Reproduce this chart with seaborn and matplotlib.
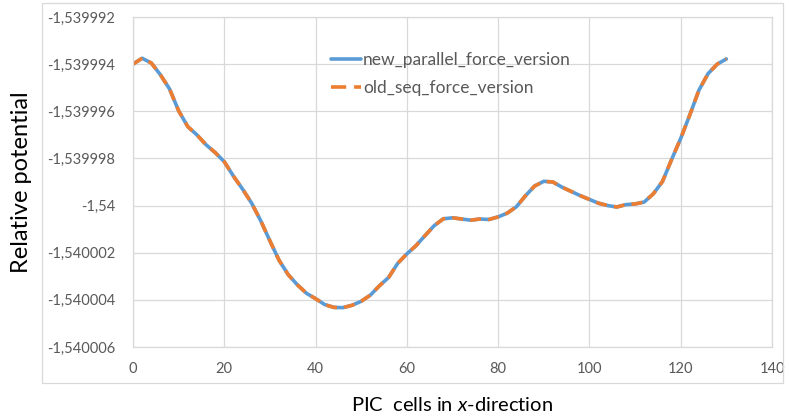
import numpy as np
import pandas as pd
import matplotlib
matplotlib.use("Agg")
import matplotlib.pyplot as plt
import seaborn as sns
from matplotlib.patches import Rectangle

cells = [0, 2, 4, 6, 8, 10, 12, 14, 16, 18, 20, 22, 24, 26, 28, 30, 32, 34, 36, 38,
         40, 42, 44, 46, 48, 50, 52, 54, 56, 58, 60, 62, 64, 66, 68, 70, 72, 74, 76, 78,
         80, 82, 84, 86, 88, 90, 92, 94, 96, 98, 100, 102, 104, 106, 108, 110, 112, 114,
         116, 118, 120, 122, 124, 126, 128, 130]

new_parallel = [-1.53999400, -1.53999375, -1.53999395, -1.53999445, -1.53999505, -1.53999598,
                -1.53999665, -1.53999700, -1.53999742, -1.53999775, -1.53999814, -1.53999875,
                -1.53999930, -1.53999990, -1.54000065, -1.54000150, -1.54000232, -1.54000293,
                -1.54000336, -1.54000372, -1.54000395, -1.54000420, -1.54000432, -1.54000433,
                -1.54000423, -1.54000406, -1.54000380, -1.54000340, -1.54000305, -1.54000245,
                -1.54000205, -1.54000170, -1.54000127, -1.54000085, -1.54000056, -1.54000052,
                -1.54000057, -1.54000062, -1.54000057, -1.54000059, -1.54000048, -1.54000032,
                -1.54000005, -1.53999958, -1.53999917, -1.53999897, -1.53999900, -1.53999922,
                -1.53999940, -1.53999958, -1.53999974, -1.53999990, -1.54000000, -1.54000006,
                -1.53999996, -1.53999993, -1.53999985, -1.53999950, -1.53999898, -1.53999805,
                -1.53999715, -1.53999615, -1.53999510, -1.53999440, -1.53999400, -1.53999378]

old_seq = [-1.53999400, -1.53999375, -1.53999395, -1.53999445, -1.53999505, -1.53999598,
           -1.53999665, -1.53999700, -1.53999742, -1.53999775, -1.53999814, -1.53999875,
           -1.53999930, -1.53999990, -1.54000065, -1.54000150, -1.54000232, -1.54000293,
           -1.54000336, -1.54000372, -1.54000395, -1.54000420, -1.54000432, -1.54000433,
           -1.54000423, -1.54000406, -1.54000380, -1.54000340, -1.54000305, -1.54000245,
           -1.54000205, -1.54000170, -1.54000127, -1.54000085, -1.54000056, -1.54000052,
           -1.54000057, -1.54000062, -1.54000057, -1.54000059, -1.54000048, -1.54000032,
           -1.54000005, -1.53999958, -1.53999917, -1.53999897, -1.53999900, -1.53999922,
           -1.53999940, -1.53999958, -1.53999974, -1.53999990, -1.54000000, -1.54000006,
           -1.53999996, -1.53999993, -1.53999985, -1.53999950, -1.53999898, -1.53999805,
           -1.53999715, -1.53999615, -1.53999510, -1.53999440, -1.53999400, -1.53999378]

series_names = ["new_parallel_force_version", "old_seq_force_version"]
y_ticks = [-1.539992, -1.539994, -1.539996, -1.539998, -1.54, -1.540002, -1.540004, -1.540006]
y_tick_labels = ["-1,539992", "-1,539994", "-1,539996", "-1,539998", "-1,54",
                 "-1,540002", "-1,540004", "-1,540006"]
x_ticks = [0, 20, 40, 60, 80, 100, 120, 140]
x_tick_labels = ["0", "20", "40", "60", "80", "100", "120", "140"]

sns.set_style("whitegrid")
plt.rcParams["font.family"] = ["Lato", "DejaVu Sans"]
plt.rcParams["mathtext.fontset"] = "custom"
plt.rcParams["mathtext.it"] = "Lato:italic"
plt.rcParams["mathtext.rm"] = "Lato"

df_new = pd.DataFrame({"x": cells, "y": new_parallel})
df_old = pd.DataFrame({"x": cells, "y": old_seq})

fig = plt.figure(figsize=(7.89, 4.18), dpi=100)
ax = fig.add_axes([133 / 789, 1 - 347 / 418, (772 - 133) / 789, (347 - 17) / 418])

grid_c = "#d9d9d9"
text_c = "#595959"

sns.lineplot(data=df_new, x="x", y="y", ax=ax, color="#5B9BD5", linewidth=2.6,
             label=series_names[0], estimator=None, sort=False)
sns.lineplot(data=df_old, x="x", y="y", ax=ax, color="#ED7D31", linewidth=2.6,
             label=series_names[1], estimator=None, sort=False)
ax.lines[1].set_dashes([3.0, 2.0])
ax.lines[1].set_dash_capstyle("butt")
ax.lines[0].set_solid_capstyle("round")

ax.set_xlim(0, 140)
ax.set_ylim(-1.540006, -1.539992)
ax.set_xticks(x_ticks)
ax.set_xticklabels(x_tick_labels)
ax.set_yticks(y_ticks)
ax.set_yticklabels(y_tick_labels)
ax.tick_params(axis="both", length=0, labelsize=10.5, colors=text_c)
ax.tick_params(axis="y", pad=13)
ax.tick_params(axis="x", pad=11)
ax.grid(True, color=grid_c, linewidth=0.9)
for s in ax.spines.values():
    s.set_color(grid_c)
    s.set_linewidth(0.9)

ax.set_xlabel("PIC  cells in $x$-direction", fontsize=14.5, color="#000000", labelpad=14)
ax.set_ylabel("Relative potential", fontsize=17, color="#000000")
ax.yaxis.set_label_coords(-0.158, 0.5)

leg = ax.legend(loc="upper left", bbox_to_anchor=(0.31, 0.894), frameon=False,
                fontsize=12.5, handlelength=1.7, handletextpad=0.15, labelspacing=0.72,
                borderaxespad=0, borderpad=0)
for t in leg.get_texts():
    t.set_color(text_c)
leg.get_lines()[1].set_dashes([4.2, 2.2])

fig.patches.append(Rectangle((42 / 789, 1 - 383 / 418), (783 - 42) / 789, (383 - 3) / 418,
                             transform=fig.transFigure, fill=False, edgecolor=grid_c,
                             linewidth=0.9, zorder=0))

fig.savefig("out.png", dpi=100)
